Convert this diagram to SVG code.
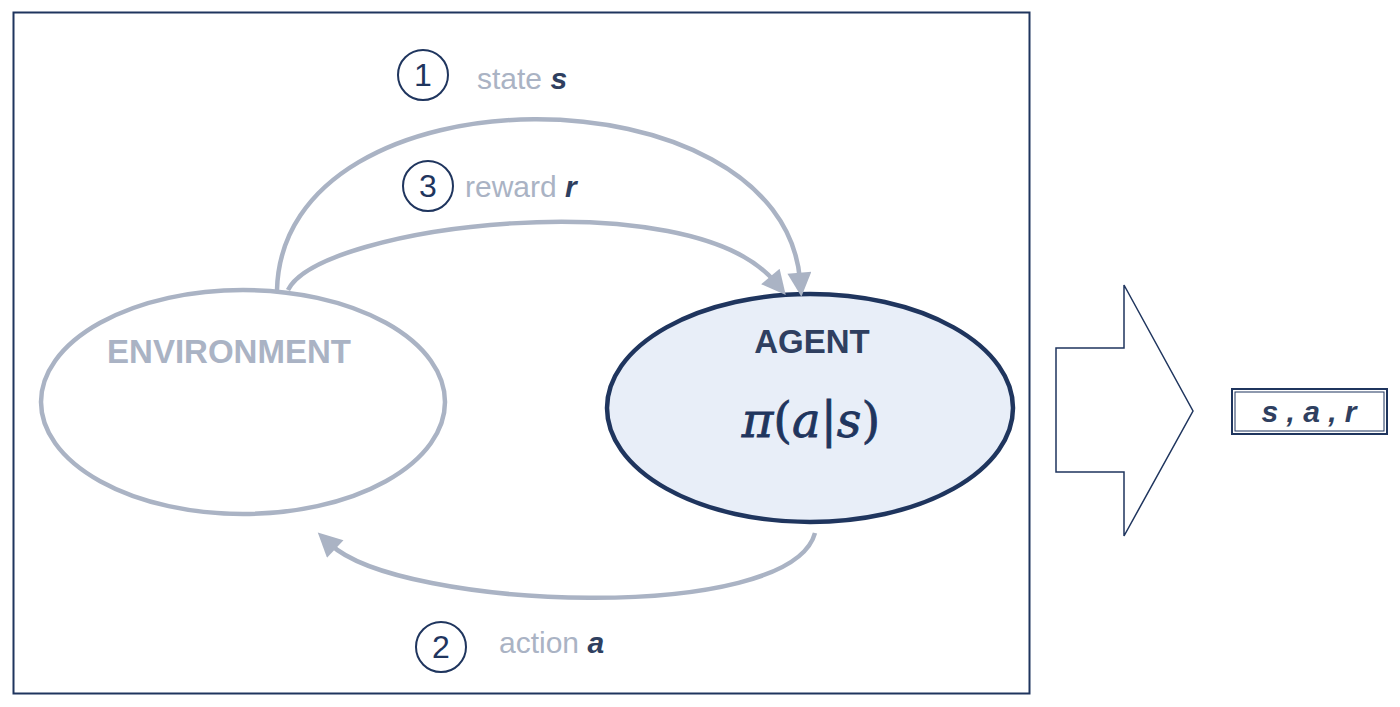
<svg xmlns="http://www.w3.org/2000/svg" width="1400" height="707" viewBox="0 0 1400 707">
<style>
.lbl{font-family:"Liberation Sans",Arial,sans-serif;font-size:30px;fill:#aab3c4}
.var{font-weight:bold;font-style:italic;fill:#2f3f60}
.num{font-family:"Liberation Sans",Arial,sans-serif;font-size:32px;fill:#1f355e;text-anchor:middle}
.ncirc{fill:none;stroke:#1f355e;stroke-width:2}
.conn{fill:none;stroke:#aab3c4;stroke-width:4.5}
</style>
<defs>
<marker id="ah" markerUnits="userSpaceOnUse" markerWidth="26" markerHeight="24" viewBox="0 0 10 10" refX="3" refY="5" orient="auto">
<path d="M0,0 L10,5 L0,10 z" fill="#aab3c4"/>
</marker>
</defs>
<rect width="1400" height="707" fill="#ffffff"/>
<rect id="frame" x="13.5" y="12.5" width="1016" height="681" fill="none" stroke="#1f355e" stroke-width="2"/>
<g id="environment">
<ellipse cx="243" cy="402" rx="202" ry="112" fill="#ffffff" stroke="#aab3c4" stroke-width="4.5"/>
<text x="229" y="363" text-anchor="middle" font-family="Liberation Sans,Arial,sans-serif" font-weight="bold" font-size="33" fill="#aab3c4">ENVIRONMENT</text>
</g>
<g id="agent">
<ellipse cx="810" cy="408" rx="203" ry="114" fill="#e8eef8" stroke="#1f355e" stroke-width="4.5"/>
<text x="812" y="353" text-anchor="middle" font-family="Liberation Sans,Arial,sans-serif" font-weight="bold" font-size="33" fill="#2f3f60">AGENT</text>
<text x="811" y="437" text-anchor="middle" font-family="DejaVu Serif,'Liberation Serif',serif" font-size="48" stroke="#1f355e" stroke-width="0.8" fill="#1f355e"><tspan font-style="italic">π</tspan>(<tspan font-style="italic">a</tspan>|<tspan font-style="italic">s</tspan>)</text>
</g>
<g id="connectors">
<path class="conn" d="M277,290 C283,62 782,66 800,280" marker-end="url(#ah)"/>
<path class="conn" d="M288,290 C320,225 690,180 775,282" marker-end="url(#ah)"/>
<path class="conn" d="M815,533 C790,625 400,610 330,544" marker-end="url(#ah)"/>
</g>
<g id="label-state">
<circle class="ncirc" cx="423" cy="75" r="25"/>
<text class="num" x="423" y="86">1</text>
<text class="lbl" x="477" y="89">state <tspan class="var">s</tspan></text>
</g>
<g id="label-reward">
<circle class="ncirc" cx="428" cy="186" r="25"/>
<text class="num" x="428" y="197">3</text>
<text class="lbl" x="465" y="197">reward <tspan class="var">r</tspan></text>
</g>
<g id="label-action">
<circle class="ncirc" cx="441" cy="647" r="25"/>
<text class="num" x="441" y="658">2</text>
<text class="lbl" x="499" y="653">action <tspan class="var">a</tspan></text>
</g>
<g id="block-arrow">
<polygon points="1056,348 1124,348 1124,285 1193,411 1124,536 1124,472 1056,472" fill="#ffffff" stroke="#1f355e" stroke-width="1.5"/>
</g>
<g id="output-box">
<rect x="1232" y="389" width="155" height="45" fill="#ffffff" stroke="#1f355e" stroke-width="2"/>
<rect x="1235" y="392" width="149" height="39" fill="none" stroke="#1f355e" stroke-width="1"/>
<text x="1309" y="422" text-anchor="middle" font-family="Liberation Sans,Arial,sans-serif" font-weight="bold" font-style="italic" font-size="30" fill="#2f3f60">s , a , r</text>
</g>
</svg>
